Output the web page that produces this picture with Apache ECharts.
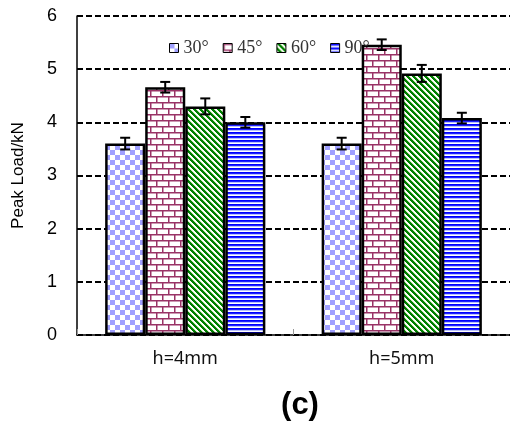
<!DOCTYPE html>
<html><head><meta charset="utf-8">
<script src="https://cdn.jsdelivr.net/npm/echarts@6/dist/echarts.min.js"></script>
<style>html,body{margin:0;padding:0;background:#fff}#c{width:510px;height:424px}</style>
</head><body><div id="c"></div>
<script>
const categories = ['h=4mm', 'h=5mm'];
const seriesNames = ['30°', '45°', '60°', '90°'];
const s30 = [3.6, 3.6];
const s45 = [4.66, 5.46];
const s60 = [4.3, 4.92];
const s90 = [4.0, 4.08];
const e30 = [0.11, 0.11];
const e45 = [0.1, 0.1];
const e60 = [0.15, 0.16];
const e90 = [0.1, 0.1];
const yTicks = [0, 1, 2, 3, 4, 5, 6];

function mk(w, h, fn) {
  const c = document.createElement('canvas'); c.width = w; c.height = h;
  const g = c.getContext('2d'); g.fillStyle = '#fff'; g.fillRect(0, 0, w, h); fn(g); return c;
}
const pChecker = mk(10, 10, g => { g.fillStyle = '#a0a0ff'; g.fillRect(0,0,5,5); g.fillRect(5,5,5,5); });
const pBrick = mk(12, 12, g => {
  g.fillStyle = '#993366';
  g.fillRect(0,0,12,1.5); g.fillRect(0,6,12,1.5);
  g.fillRect(0,0,1.5,6); g.fillRect(6,6,1.5,6);
});
const pDiag = mk(6, 6, g => {
  for (let x = 0; x < 6; x++) for (let y = 0; y < 6; y++) {
    const d = ((x - y) % 6 + 6) % 6;
    g.fillStyle = d < 3 ? '#008000' : (d === 3 ? '#c8e6b0' : '#ffffff');
    g.fillRect(x, y, 1, 1);
  }
});
const pHoriz = mk(4, 4, g => {
  g.fillStyle = '#0000ff'; g.fillRect(0,0,4,1);
  g.fillStyle = '#2020ff'; g.fillRect(0,1,4,1);
  g.fillStyle = '#b8c0ff'; g.fillRect(0,2,4,1);
});
const patterns = [pChecker, pBrick, pDiag, pHoriz];
const values = [s30, s45, s60, s90];
const errs = [e30, e45, e60, e90];
const catGap = 0.26;

const errData = [];
values.forEach((vals, si) => vals.forEach((v, ci) => errData.push([ci, v, errs[si][ci], si])));

const chart = echarts.init(document.getElementById('c'), null, {renderer: 'canvas'});
const series = values.map((vals, si) => ({
  name: seriesNames[si], type: 'bar', data: vals,
  barGap: '0%', barCategoryGap: (catGap * 100) + '%',
  itemStyle: { color: { image: patterns[si], repeat: 'repeat' }, borderColor: '#000', borderWidth: 2.5 },
  emphasis: { disabled: true }
}));
series.push({
  type: 'custom', data: errData, encode: { x: 0, y: 1 }, z: 5, silent: true,
  renderItem: function (params, api) {
    const ci = api.value(0), v = api.value(1), e = api.value(2), si = api.value(3);
    const catW = api.size([1, 0])[0];
    const bw = catW * (1 - catGap) / 4;
    const c = api.coord([ci, v]);
    const x = c[0] + (si - 1.5) * bw;
    const yt = api.coord([ci, v + e])[1], yb = api.coord([ci, v - e])[1];
    const st = { stroke: '#000', lineWidth: 2 };
    return { type: 'group', children: [
      { type: 'line', shape: { x1: x, y1: yt, x2: x, y2: yb }, style: st },
      { type: 'line', shape: { x1: x - 5, y1: yt, x2: x + 5, y2: yt }, style: st },
      { type: 'line', shape: { x1: x - 5, y1: yb, x2: x + 5, y2: yb }, style: st }
    ]};
  }
});

chart.setOption({
  animation: false,
  grid: { left: 77, right: -4, top: 16, bottom: 89, containLabel: false },
  legend: {
    data: seriesNames, left: 164, top: 34, itemWidth: 9, itemHeight: 9, itemGap: 14,
    icon: 'rect',
    itemStyle: { borderColor: '#000', borderWidth: 1 },
    textStyle: { fontFamily: 'Liberation Serif', fontSize: 18, color: '#333' }
  },
  xAxis: {
    type: 'category', data: categories,
    axisLine: { lineStyle: { color: '#000', width: 1.5 } },
    axisTick: { show: true, inside: true, length: 6, lineStyle: { color: '#999' } },
    axisLabel: { fontFamily: 'Noto Sans', fontSize: 18, color: '#111', margin: 15 }
  },
  yAxis: {
    type: 'value', min: yTicks[0], max: yTicks[yTicks.length - 1], interval: 1,
    name: 'Peak Load/kN', nameLocation: 'middle', nameGap: 50, nameRotate: 90,
    nameTextStyle: { fontFamily: 'Liberation Sans', fontSize: 17, color: '#000' },
    axisLine: { show: true, lineStyle: { color: '#000', width: 1.5 } },
    axisTick: { show: false },
    axisLabel: { fontFamily: 'Liberation Sans', fontSize: 18, color: '#000', margin: 20 },
    splitLine: { show: true, lineStyle: { color: '#000', width: 2, type: [6, 3] } }
  },
  graphic: [{ type: 'text', x: 300, y: 405, style: { text: '(c)', font: 'bold 31px "Liberation Sans"', fill: '#000', align: 'center', verticalAlign: 'middle' } }],
  series: series
});
</script></body></html>
